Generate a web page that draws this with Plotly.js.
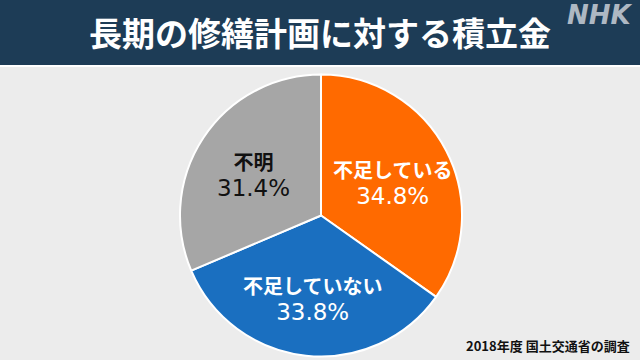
<!DOCTYPE html>
<html><head><meta charset="utf-8">
<script src="https://cdn.plot.ly/plotly-3.0.1.min.js"></script>
<style>html,body{margin:0;padding:0;background:#ececec;}#chart{width:640px;height:360px;}</style>
</head><body><div id="chart"></div>
<script>
const categories = ['不足している', '不足していない', '不明'];
const values = [34.8, 33.8, 31.4];
const colors = ['#ff6a00', '#1a6fc0', '#a6a6a6'];
const textColors = ['#ffffff', '#ffffff', '#111111'];
const titleText = '長期の修繕計画に対する積立金';
const sourceText = '2018年度 国土交通省の調査';

const W = 640, H = 360;
const pieDomX = [180 / W, 462 / W];
const pieDomY = [1 - 357 / H, 1 - 74 / H];

const trace = {
  type: 'pie',
  labels: categories,
  values: values,
  sort: false,
  direction: 'clockwise',
  rotation: 0,
  marker: {colors: colors, line: {color: '#ffffff', width: 2}},
  textinfo: 'none',
  hoverinfo: 'none',
  showlegend: false,
  domain: {x: pieDomX, y: pieDomY}
};

// label placement derived from the slice angles
const cx = (pieDomX[0] + pieDomX[1]) / 2 * W;
const cy = (1 - (pieDomY[0] + pieDomY[1]) / 2) * H;
const R = Math.min((pieDomX[1] - pieDomX[0]) * W, (pieDomY[1] - pieDomY[0]) * H) / 2;
const total = values.reduce((a, b) => a + b, 0);
const labelAnns = [];
let cum = 0;
values.forEach((v, i) => {
  const mid = (cum + v / 2) / total * 2 * Math.PI;
  cum += v;
  const r = 0.57 * R;
  const px = cx + r * Math.sin(mid);
  const py = cy - r * Math.cos(mid) + 3;
  labelAnns.push({
    text: categories[i] + '<br><span style="font-family:\'DejaVu Sans\', sans-serif;font-size:23px;font-weight:normal">' + v.toFixed(1) + '%</span>',
    xref: 'paper', yref: 'paper', x: px / W, y: 1 - py / H,
    xanchor: 'center', yanchor: 'middle', showarrow: false, align: 'center',
    font: {family: '"Noto Sans CJK JP", sans-serif', size: 20, color: textColors[i], weight: 700}
  });
});

const layout = {
  width: W, height: H,
  margin: {l: 0, r: 0, t: 0, b: 0},
  paper_bgcolor: '#ececec',
  plot_bgcolor: '#ececec',
  shapes: [
    {type: 'rect', xref: 'paper', yref: 'paper', x0: 0, x1: 1, y0: 1 - 65 / H, y1: 1, fillcolor: '#1d3c56', line: {width: 0}, layer: 'below'},
    {type: 'rect', xref: 'paper', yref: 'paper', x0: 0, x1: 1, y0: 1 - 67 / H, y1: 1 - 65 / H, fillcolor: '#ffffff', line: {width: 0}, layer: 'below'}
  ],
  annotations: [
    {text: titleText, xref: 'paper', yref: 'paper', x: 0.5, y: 1 - 32 / H, xanchor: 'center', yanchor: 'middle', showarrow: false,
     font: {family: '"Noto Sans CJK JP", sans-serif', size: 33, color: '#ffffff', weight: 700}},
    {text: '<i>NHK</i>', xref: 'paper', yref: 'paper', x: 1 - 5 / W, y: 1 - 15 / H, xanchor: 'right', yanchor: 'middle', showarrow: false,
     font: {family: '"DejaVu Sans", sans-serif', size: 26, color: '#aeb8c3', weight: 700}},
    {text: sourceText, xref: 'paper', yref: 'paper', x: 1 - 8 / W, y: 1 - 345 / H, xanchor: 'right', yanchor: 'middle', showarrow: false,
     font: {family: '"Noto Sans CJK JP", sans-serif', size: 13, color: '#111111', weight: 700}}
  ].concat(labelAnns)
};

Plotly.newPlot('chart', [trace], layout, {staticPlot: true, displayModeBar: false});
</script></body></html>
